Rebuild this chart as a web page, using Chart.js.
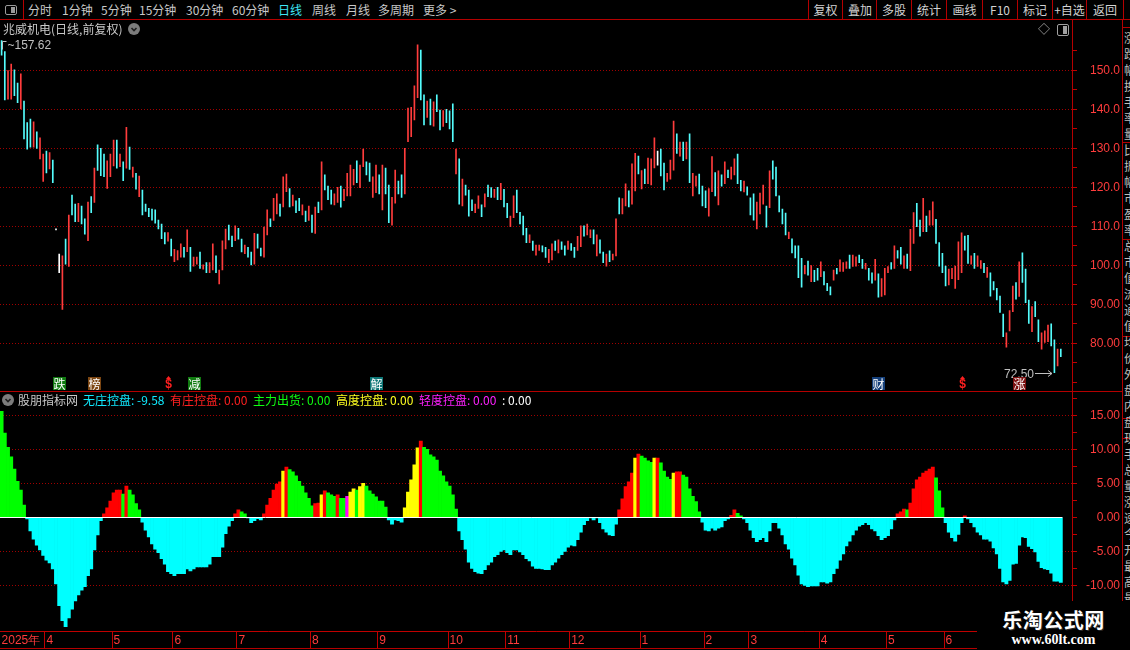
<!DOCTYPE html>
<html lang="zh">
<head>
  <meta charset="UTF-8">
  <title>兆威机电 日线</title>
  <style>
    body {
      margin: 0;
      width: 1130px;
      height: 650px;
      background: #000;
      overflow: hidden;
      position: relative;
      font-family: "Noto Sans CJK SC", sans-serif;
    }
    .t {
      position: absolute;
      white-space: nowrap;
      font-size: 12px;
      line-height: 14px;
      color: #c8c8c8;
    }
    .hl { position: absolute; height: 1px; background: #b40000; }
    .vl { position: absolute; width: 1px; background: #b40000; }
    .btn {
      position: absolute;
      top: 0;
      height: 19px;
      border-left: 1px solid #b40000;
      color: #d2d2d2;
      font-size: 12px;
      line-height: 19px;
      text-align: center;
    }
    .tag {
      position: absolute;
      width: 12px;
      height: 12px;
      border-radius: 50%;
      background: #7c7c7c;
    }
    .chartBox { position: absolute; left: 0; width: 1120px; }
    .wm {
      position: absolute;
      left: 977px;
      top: 601px;
      width: 153px;
      height: 49px;
      background: #000;
      color: #fff;
      text-align: center;
    }
  </style>
</head>
<body>

  <!-- toolbar -->
  <div style="position:absolute;left:0;top:0;width:23px;height:19px;border-right:1px solid #b40000;">
    <div style="position:absolute;left:5px;top:5px;width:10px;height:8px;border:1px solid #9a9a9a;border-radius:2px;">
      <div style="position:absolute;right:1px;top:1px;width:4px;height:6px;background:#9a9a9a;"></div>
    </div>
  </div>
  <div class="t" style="left:28px;top:3px;">分时</div>
  <div class="t" style="left:62px;top:3px;">1分钟</div>
  <div class="t" style="left:101px;top:3px;">5分钟</div>
  <div class="t" style="left:139px;top:3px;">15分钟</div>
  <div class="t" style="left:186px;top:3px;">30分钟</div>
  <div class="t" style="left:232px;top:3px;">60分钟</div>
  <div class="t" style="left:278px;top:3px;color:#3ee6f6;">日线</div>
  <div class="t" style="left:312px;top:3px;">周线</div>
  <div class="t" style="left:346px;top:3px;">月线</div>
  <div class="t" style="left:378px;top:3px;">多周期</div>
  <div class="t" style="left:423px;top:3px;">更多 &gt;</div>

  <div class="btn" style="left:808px;width:33px;">复权</div>
  <div class="btn" style="left:842px;width:34px;">叠加</div>
  <div class="btn" style="left:876px;width:34px;">多股</div>
  <div class="btn" style="left:911px;width:34px;">统计</div>
  <div class="btn" style="left:946px;width:35px;">画线</div>
  <div class="btn" style="left:982px;width:34px;">F10</div>
  <div class="btn" style="left:1017px;width:34px;">标记</div>
  <div class="btn" style="left:1052px;width:33px;">+自选</div>
  <div class="btn" style="left:1086px;width:36px;border-right:1px solid #b40000;">返回</div>

  <!-- charts -->
  <div class="chartBox" style="top:20px;height:371px;">
    <canvas id="priceChart" width="1120" height="371"></canvas>
  </div>
  <div class="chartBox" style="top:391px;height:259px;">
    <canvas id="indChart" width="1120" height="259"></canvas>
  </div>

  <!-- frame lines -->
  <div class="hl" style="left:0;top:19px;width:1130px;"></div>
  <div class="hl" style="left:0;top:391px;width:1122px;"></div>
  <div class="hl" style="left:0;top:648px;width:977px;"></div>
  <div class="vl" style="left:1072px;top:19px;height:582px;"></div>
  <div class="vl" style="left:1122px;top:19px;height:582px;"></div>
  <div class="hl" style="left:1122px;top:27px;width:8px;"></div>
  <div class="hl" style="left:1122px;top:142px;width:8px;"></div>
  <div class="hl" style="left:1122px;top:239px;width:8px;"></div>
  <div class="hl" style="left:1122px;top:336px;width:8px;"></div>
  <div class="hl" style="left:1122px;top:418px;width:8px;"></div>
  <div class="hl" style="left:1122px;top:438px;width:8px;"></div>
  <div style="position:absolute;left:1124px;top:30px;width:6px;height:570px;overflow:hidden;">
    <div class="t" style="position:static;line-height:16px;font-size:12px;white-space:normal;width:12px;color:#bdbdbd;">
      涨跌幅换手率量比振幅市盈率总市值流通值均价外盘内盘现手总量涨速今开最高最低昨收净资产收益率股本流通盘
    </div>
  </div>

  <!-- price panel header -->
  <div class="t" style="left:3px;top:22px;">兆威机电(日线,前复权)</div>
  <div class="tag" style="left:128px;top:23px;">
    <svg width="12" height="12" style="position:absolute;left:0;top:0"><polyline points="3.5,5 6,7.5 8.5,5" fill="none" stroke="#1e1e1e" stroke-width="1.6"/></svg>
  </div>
  <div class="t" style="left:1038px;top:22px;color:#a8a8a8;font-size:12px;">◇</div>
  <div style="position:absolute;left:1057px;top:24px;width:10px;height:10px;border:1px solid #a0a0a0;border-radius:2px;">
    <div style="position:absolute;right:1px;top:1px;width:4px;height:8px;background:#a0a0a0;"></div>
  </div>

  <!-- indicator header -->
  <div class="tag" style="left:2px;top:394px;">
    <svg width="12" height="12" style="position:absolute;left:0;top:0"><polyline points="3.5,5 6,7.5 8.5,5" fill="none" stroke="#1e1e1e" stroke-width="1.6"/></svg>
  </div>
  <div class="t" style="left:18px;top:393px;">股朋指标网</div>
  <div class="t" id="lblNone" style="left:83px;top:393px;color:#10eaff;"></div>
  <div class="t" style="left:170px;top:393px;color:#ff2020;">有庄控盘: 0.00</div>
  <div class="t" style="left:253px;top:393px;color:#10ff10;">主力出货: 0.00</div>
  <div class="t" style="left:336px;top:393px;color:#ffff20;">高度控盘: 0.00</div>
  <div class="t" style="left:419px;top:393px;color:#ff20ff;">轻度控盘: 0.00</div>
  <div class="t" style="left:502px;top:393px;color:#ffffff;">: 0.00</div>

  <!-- watermark -->
  <div class="wm">
    <div style="font-size:20px;font-weight:bold;line-height:24px;margin-top:7px;letter-spacing:0.5px;text-shadow:0 0 2px #000,1px 1px 0 #333;">乐淘公式网</div>
    <div style="font-family:'Liberation Serif',serif;font-size:14px;font-weight:bold;line-height:16px;">www.60lt.com</div>
  </div>

<script src="https://cdn.jsdelivr.net/npm/chart.js/dist/chart.umd.min.js"></script>
<script>
  // ---- daily bars (high / low), oldest first ----
  const highs = [
    157.62,154.8,149.9,151.6,150.1,146.7,149.1,142.1,136.6,137.5,
    136.8,134.2,132.7,128.5,129.3,128.9,127.0,109.3,102.9,102.4,
    106.7,112.9,118.0,115.7,115.9,115.2,111.9,116.2,117.6,124.9,
    130.9,130.0,128.5,126.8,128.5,132.1,132.1,128.5,126.5,135.4,
    130.3,125.2,123.6,122.9,119.3,115.7,114.6,114.4,114.2,111.6,
    110.6,108.4,108.4,106.7,104.1,103.8,105.5,104.6,109.1,104.6,
    102.1,102.1,103.4,100.1,100.7,100.7,105.5,102.4,98.8,106.3,
    109.3,110.3,107.5,110.1,109.5,106.7,105.2,104.6,103.4,108.2,
    108.0,104.4,109.8,114.2,111.9,117.2,118.3,115.7,122.7,123.4,
    119.7,118.0,116.5,117.2,115.5,113.9,115.2,112.9,114.9,116.2,
    126.5,123.2,120.3,119.3,118.3,120.0,120.3,119.5,123.6,125.7,
    124.6,126.8,125.7,129.8,126.5,126.2,122.7,125.7,123.2,125.7,
    124.9,120.6,117.4,124.4,121.6,123.2,130.0,140.3,140.5,146.0,
    156.5,155.2,143.7,142.1,142.6,141.9,143.7,139.8,139.7,140.0,
    139.6,141.4,129.8,127.3,122.1,120.6,119.3,116.8,115.7,117.8,
    115.5,118.3,120.6,119.9,119.5,120.0,121.0,119.5,115.9,112.6,
    117.8,119.3,113.6,112.6,109.5,107.8,106.2,105.2,105.2,105.0,
    104.6,104.1,105.5,106.2,106.5,106.0,105.0,106.2,105.6,104.6,
    107.4,110.1,110.1,110.6,109.1,109.1,107.8,106.5,103.4,102.9,
    103.7,102.9,111.9,117.3,117.1,120.9,119.1,126.0,128.7,128.0,
    124.3,124.7,127.5,127.3,132.7,129.3,129.8,126.2,123.6,127.0,
    137.0,133.7,131.6,131.6,131.6,133.7,123.6,122.9,123.4,120.3,
    119.1,119.7,127.9,123.8,124.2,123.2,126.5,124.4,125.2,127.3,
    128.5,121.8,121.6,120.1,117.3,118.3,116.2,118.5,120.6,115.2,
    124.2,126.8,125.2,117.8,114.4,113.4,108.5,106.8,105.0,105.0,
    101.8,100.0,101.1,99.9,98.7,99.2,100.9,98.4,95.4,94.5,
    98.8,99.2,101.4,100.7,100.9,102.6,102.6,102.2,102.6,101.5,
    100.5,99.2,98.1,101.5,97.8,96.6,99.2,99.7,100.7,105.0,
    103.8,104.6,102.4,102.9,109.2,113.5,115.9,111.6,117.2,112.6,
    114.0,116.3,111.8,105.8,103.1,99.8,99.0,99.2,99.8,106.0,
    108.3,107.5,107.7,102.4,103.1,102.4,101.2,100.5,99.5,98.1,
    95.8,94.1,92.1,87.5,82.7,88.4,94.7,95.6,100.9,103.2,
    99.0,91.1,89.4,90.7,86.0,82.7,83.2,84.7,85.0,80.9,
    78.5,78.5
  ];
  const lows = [
    153.9,142.4,142.6,142.6,143.5,141.7,140.1,132.4,129.8,130.3,
    130.3,130.0,127.3,121.5,123.7,124.7,121.2,109.1,98.1,88.7,
    100.3,99.7,112.9,111.2,111.2,110.6,108.0,106.3,113.5,116.1,
    124.3,123.0,122.7,119.7,122.7,125.5,124.9,125.3,121.7,124.9,
    124.6,122.6,119.5,117.6,112.9,113.8,112.5,111.6,110.8,109.3,
    106.8,105.5,106.2,102.4,100.9,101.4,102.1,102.1,103.5,98.4,
    99.8,100.3,99.2,99.0,98.1,98.1,98.8,98.1,95.2,98.8,
    104.2,106.5,104.8,106.3,106.7,103.4,103.0,102.1,100.1,100.3,
    104.4,102.4,102.1,107.8,109.9,111.5,113.2,112.6,115.0,118.9,
    115.0,115.2,113.5,114.0,112.9,111.2,111.5,108.4,108.2,113.5,
    114.2,119.3,116.8,115.7,115.5,116.1,114.9,116.6,117.8,117.8,
    120.6,121.2,119.9,125.3,123.2,121.5,117.4,118.6,118.3,114.2,
    118.3,110.9,110.3,115.9,118.3,117.4,118.3,131.7,133.0,137.3,
    143.0,142.4,136.0,137.9,136.0,135.7,139.4,134.7,135.6,136.6,
    135.0,131.7,123.4,115.7,115.2,118.0,112.6,114.0,113.5,114.6,
    112.5,115.0,117.6,117.4,117.4,116.8,116.8,115.0,112.2,109.9,
    112.2,113.5,110.6,107.8,105.8,105.8,103.8,102.6,103.8,103.4,
    102.0,100.7,101.4,103.8,103.2,104.1,102.6,104.1,103.8,102.0,
    103.8,104.8,107.5,107.8,107.1,105.5,102.4,103.1,100.7,99.8,
    100.9,101.4,102.4,113.2,113.2,115.2,115.0,115.7,119.1,123.4,
    119.6,120.9,120.9,120.6,125.0,125.7,122.9,119.3,121.5,122.1,
    124.4,128.7,128.0,126.8,127.3,121.2,117.8,120.3,118.3,115.2,
    114.8,112.6,118.9,117.8,115.5,120.3,120.9,122.5,122.1,123.2,
    120.9,119.1,118.8,118.0,112.9,111.6,109.3,113.2,115.7,109.8,
    114.8,122.1,117.8,113.7,110.6,107.8,106.8,103.2,101.9,96.8,
    94.4,97.8,97.5,95.8,95.8,96.2,97.1,95.0,93.5,92.4,
    96.2,97.8,98.4,98.4,99.2,99.2,99.7,99.8,100.7,99.2,
    99.0,96.2,95.4,96.2,91.8,92.0,92.4,98.1,99.0,99.2,
    101.8,100.3,99.2,99.2,98.6,105.6,109.9,107.5,108.6,108.6,
    110.3,110.3,105.6,99.8,98.1,94.7,95.0,96.6,94.1,96.3,
    98.1,103.9,100.5,100.3,99.2,99.7,99.2,98.1,96.9,92.1,
    93.7,91.1,87.9,81.7,79.0,83.2,88.1,91.3,92.0,95.6,
    90.4,85.1,83.0,86.8,80.4,78.5,80.2,80.4,79.3,72.5,
    74.2,76.6
  ];
  // r = up day, c = down day, w = flat
  const candleDir =
    'ccrrccrccc' + 'rcrrcrcwwr' + 'crccrccrcr' + 'cccrrrcrcr' + 'crcrcccccc' +
    'ccrcrrrcrc' + 'rrcrcrrcrr' + 'rccrccrccr' + 'ccrrcrrcrr' + 'crccrcrcrc' +
    'rcccrrcrrr' + 'rcrrccrrcr' + 'ccrrccrrrr' + 'rccrcrccrc' + 'ccrcrcccrr' +
    'crccrcrccr' + 'rccccrcrrc' + 'crrcrccrcc' + 'rrcrrcrccr' + 'crrcrrcrrc' +
    'rcrrrwccrr' + 'rcrcrcrrcc' + 'crrcrcrcrr' + 'ccrcccrrrc' + 'rcccccrccc' +
    'crcrccrccc' + 'rcrrrcrrcc' + 'rccrcrrrcr' + 'ccrcrrccrc' + 'rrccccrrrr' +
    'rccrcrrcrc' + 'ccccrrrcrc' + 'ccrccrrrcc' + 'rc';

  // ---- indicator histogram ----
  const indValues = [
    15.6,12.4,10.3,8.9,7.1,5.3,4.0,1.8,-0.25,-2.0,
    -3.2,-4.1,-4.8,-5.6,-6.3,-6.7,-7.6,-9.8,-13.0,-15.2,
    -16.1,-14.8,-13.5,-12.3,-11.4,-10.7,-10.2,-8.6,-7.6,-4.8,
    -2.6,-0.5,0.5,1.4,2.4,3.6,4.0,4.0,3.4,4.6,
    4.0,3.3,2.0,1.1,-0.7,-1.9,-2.9,-3.9,-4.7,-5.2,
    -6.1,-6.9,-8.0,-8.3,-8.6,-8.3,-8.3,-8.3,-7.6,-7.9,
    -7.6,-7.3,-7.3,-7.3,-7.3,-6.9,-5.8,-5.8,-5.8,-4.4,
    -2.4,-1.3,-0.5,0.5,1.1,0.8,0.5,-0.1,-0.8,-0.5,
    -0.2,-0.4,0.5,1.8,2.8,4.0,4.9,5.2,6.8,7.4,
    7.0,6.7,6.1,5.3,4.6,3.6,2.8,1.7,2.0,2.1,
    3.3,3.9,3.6,3.3,3.1,3.3,2.8,2.8,3.1,3.7,
    4.2,4.0,4.5,5.0,4.6,3.9,3.4,3.0,2.4,2.4,
    1.5,-0.4,-1.0,-0.4,-0.5,-0.7,1.4,3.7,5.5,7.7,
    10.2,11.2,10.3,10.0,9.2,8.9,8.4,6.8,6.1,5.2,
    4.6,3.3,1.2,-2.0,-3.3,-4.7,-6.6,-7.5,-8.0,-8.2,
    -8.3,-7.7,-7.0,-6.6,-5.8,-5.5,-5.0,-4.8,-5.2,-5.5,
    -4.8,-4.8,-5.1,-5.5,-6.1,-6.4,-7.2,-7.5,-7.5,-7.6,
    -7.7,-7.7,-7.0,-6.6,-6.0,-5.5,-5.0,-4.4,-4.1,-4.2,
    -3.3,-2.2,-1.1,-0.5,-0.1,-0.4,-0.1,-0.8,-1.7,-2.2,
    -2.6,-2.7,-1.0,1.1,2.7,4.5,5.2,6.5,8.7,9.3,
    9.0,8.7,8.3,8.1,8.7,8.7,8.0,6.8,5.9,5.6,
    6.5,6.7,6.7,6.2,5.9,4.2,3.1,2.3,0.8,-0.7,
    -1.9,-2.0,-1.6,-1.9,-1.6,-1.4,-0.5,-0.25,0.3,1.1,
    0.6,0.2,-0.25,-0.8,-1.9,-3.0,-3.6,-3.3,-3.0,-3.6,
    -2.0,-0.8,-0.8,-1.6,-2.6,-3.9,-4.7,-6.0,-7.0,-8.5,
    -9.8,-10.0,-10.2,-10.1,-10.1,-10.1,-9.5,-9.5,-9.7,-9.5,
    -8.3,-7.5,-6.3,-5.4,-4.2,-3.5,-2.6,-1.9,-1.3,-1.1,
    -0.8,-1.1,-1.7,-2.0,-2.7,-3.3,-3.0,-2.7,-1.7,-0.4,
    0.5,0.8,1.2,1.1,2.1,4.2,5.5,5.9,6.5,6.8,
    7.1,7.4,5.8,3.9,1.4,-0.8,-2.2,-3.0,-3.5,-2.5,
    -0.8,0.2,-0.25,-0.8,-1.4,-2.2,-2.6,-3.2,-3.2,-3.5,
    -4.5,-5.4,-7.5,-9.5,-9.8,-9.3,-6.9,-6.8,-4.1,-2.9,
    -3.0,-4.3,-4.6,-5.1,-6.5,-7.4,-7.6,-7.7,-8.2,-9.4,
    -9.4,-9.58
  ];
  // c 无庄控盘, r 有庄控盘, g 主力出货, y 高度控盘, m 轻度控盘
  const indKind =
    'ggggggggcc' + 'cccccccccc' + 'cccccccccc' + 'ccrrrrrrgr' + 'ggggcccccc' +
    'cccccccccc' + 'cccccccccc' + 'cccrrggccc' + 'ccrrrrrryr' + 'ggggggggrr' +
    'yrgggrggmy' + 'ygyygggggg' + 'gcccccyyyy' + 'yrgggggggg' + 'gggccccccc' +
    'cccccccccc' + 'cccccccccc' + 'cccccccccc' + 'cccccccccc' + 'cccrrrrryr' +
    'ggggyrgggg' + 'yrrggggggc' + 'ccccccccrr' + 'ggcccccccc' + 'cccccccccc' +
    'cccccccccc' + 'cccccccccc' + 'cccccccccc' + 'rrrgrrrrrr' + 'rrgggccccc' +
    'crcccccccc' + 'cccccccccc' + 'cccccccccc' + 'cc';

  // ---- axis labels ----
  const monthStarts = [0, 14, 35, 54, 74, 97, 118, 140, 158, 178, 200, 220, 234, 256, 277, 295];
  const monthNames = ['2025年', '4', '5', '6', '7', '8', '9', '10', '11', '12', '1', '2', '3', '4', '5', '6'];
  const priceTicks = [70, 75, 80, 85, 90, 95, 100, 105, 110, 115, 120, 125, 130, 135, 140, 145, 150, 155];
  const indTicks = [-12.5, -10, -7.5, -5, -2.5, 0, 2.5, 5, 7.5, 10, 12.5, 15, 17.5];

  // ---- event tags under the candles ----
  const eventIdx = [18, 29, 52, 60, 117, 274, 300, 318];
  const eventText = ['跌', '榜', '$', '减', '解', '财', '$', '涨'];
  const eventBg = ['#107a10', '#7c4612', null, '#107a10', '#0d7676', '#143f7a', null, '#7c1010'];

  const candleColors = { r: '#ff3c3c', c: '#54fcfc', w: '#ffffff' };
  const indColors = { c: '#00ffff', r: '#ff0000', g: '#00ff00', y: '#ffff00', m: '#ff00ff' };
  const slots = Array.from({ length: highs.length + 3 }, (_, i) => i);

  document.getElementById('lblNone').textContent = '无庄控盘: ' + indValues[indValues.length - 1].toFixed(2);

  Chart.defaults.font.family = '"Liberation Sans", Arial, sans-serif';
  Chart.defaults.font.size = 12;

  const gridRed = '#a00000';
  const axisRed = '#c00000';
  const labelRed = '#ff3c3c';

  // set the value range so the axis lands where the screen places it
  function pinScale(chart, pageTop, refPx, refValue, pxPerUnit) {
    const a = chart.chartArea;
    const y = chart.options.scales.y;
    y.max = refValue + (refPx - (pageTop + a.top)) / pxPerUnit;
    y.min = refValue - ((pageTop + a.bottom) - refPx) / pxPerUnit;
    chart.update('none');
  }

  // max / min price notes and the tag row
  const priceMarks = {
    id: 'priceMarks',
    afterDatasetsDraw(chart) {
      const { ctx, scales: { x, y } } = chart;
      ctx.save();
      ctx.strokeStyle = '#c0c0c0';
      ctx.fillStyle = '#c0c0c0';
      ctx.lineWidth = 1;
      ctx.font = '12px "Liberation Sans", sans-serif';
      ctx.textBaseline = 'middle';

      const iHi = highs.indexOf(Math.max(...highs));
      const hx = Math.round(x.getPixelForValue(iHi)) + 0.5;
      const hy = Math.round(y.getPixelForValue(highs[iHi])) + 0.5;
      ctx.beginPath();
      ctx.moveTo(hx, hy + 8); ctx.lineTo(hx, hy); ctx.lineTo(hx + 4, hy);
      ctx.stroke();
      ctx.fillText('~' + highs[iHi].toFixed(2), hx + 5, hy + 4);

      const iLo = lows.indexOf(Math.min(...lows));
      const lx = Math.round(x.getPixelForValue(iLo));
      const ly = Math.round(y.getPixelForValue(lows[iLo])) + 0.5;
      ctx.beginPath();
      ctx.moveTo(lx - 19, ly); ctx.lineTo(lx - 2, ly);
      ctx.moveTo(lx - 6, ly - 3); ctx.lineTo(lx - 2, ly); ctx.lineTo(lx - 6, ly + 3);
      ctx.stroke();
      ctx.textAlign = 'right';
      ctx.fillText(lows[iLo].toFixed(2), lx - 20, ly + 1);

      const top = chart.height - 14;
      ctx.textAlign = 'center';
      eventIdx.forEach((idx, k) => {
        const cx = Math.round(x.getPixelForValue(idx));
        if (eventBg[k]) {
          ctx.fillStyle = eventBg[k];
          ctx.fillRect(cx - 6, top, 13, 13);
          ctx.fillStyle = '#ffffff';
          ctx.font = '12px "Noto Sans CJK SC", sans-serif';
          ctx.fillText(eventText[k], cx + 0.5, top + 7);
        } else {
          ctx.fillStyle = '#ff2020';
          ctx.beginPath();
          ctx.moveTo(cx + 0.5, top - 1); ctx.lineTo(cx - 2, top + 2); ctx.lineTo(cx + 3, top + 2);
          ctx.fill();
          ctx.font = 'bold 12px "Liberation Sans", sans-serif';
          ctx.fillText(eventText[k], cx + 0.5, top + 8);
        }
      });
      ctx.restore();
    }
  };

  const zeroLine = {
    id: 'zeroLine',
    afterDatasetsDraw(chart) {
      const { ctx, chartArea, scales: { x, y } } = chart;
      const yy = Math.round(y.getPixelForValue(0)) + 0.5;
      const xEnd = x.getPixelForValue(indValues.length - 1) + x.width / slots.length / 2;
      ctx.save();
      ctx.strokeStyle = '#ffffff';
      ctx.lineWidth = 1;
      ctx.beginPath();
      ctx.moveTo(chartArea.left, yy);
      ctx.lineTo(xEnd, yy);
      ctx.stroke();
      ctx.restore();
    }
  };

  const priceChart = new Chart(document.getElementById('priceChart'), {
    type: 'bar',
    data: {
      labels: slots,
      datasets: [{
        data: lows.map((l, i) => [l, highs[i]]),
        backgroundColor: [...candleDir].map(k => candleColors[k]),
        barThickness: 1,
        minBarLength: 1,
        borderWidth: 0
      }]
    },
    options: {
      responsive: false,
      animation: false,
      devicePixelRatio: 1,
      layout: { padding: { top: 16 } },
      plugins: { legend: { display: false }, tooltip: { enabled: false } },
      scales: {
        x: { display: false },
        y: {
          position: 'right',
          min: 67.77,
          max: 158.79,
          afterBuildTicks: s => { s.ticks = priceTicks.map(v => ({ value: v })); },
          afterFit: s => { s.width = 48; },
          grid: {
            color: c => (c.tick && c.tick.value % 10 === 0 && c.tick.value >= 80) ? gridRed : 'transparent',
            tickColor: axisRed,
            tickLength: 5
          },
          border: { display: false, dash: [1, 2] },
          ticks: {
            color: labelRed,
            crossAlign: 'far',
            padding: 10,
            callback: v => (v % 10 === 0 && v >= 80) ? v.toPrecision(4) : ''
          }
        }
      }
    },
    plugins: [priceMarks]
  });
  pinScale(priceChart, 20, 70.3, 150, 3.9);

  const indChart = new Chart(document.getElementById('indChart'), {
    type: 'bar',
    data: {
      labels: slots,
      datasets: [{
        data: indValues,
        backgroundColor: [...indKind].map(k => indColors[k]),
        barPercentage: 1,
        categoryPercentage: 1,
        borderWidth: 0
      }]
    },
    options: {
      responsive: false,
      animation: false,
      devicePixelRatio: 1,
      layout: { padding: { top: 4 } },
      plugins: { legend: { display: false }, tooltip: { enabled: false } },
      scales: {
        x: {
          afterFit: s => { s.height = 19; },
          grid: {
            drawOnChartArea: false,
            drawTicks: true,
            tickLength: 17,
            tickColor: c => monthStarts.includes(c.index) ? axisRed : 'transparent'
          },
          border: { display: true, color: axisRed },
          ticks: {
            autoSkip: false,
            maxRotation: 0,
            minRotation: 0,
            align: 'start',
            padding: -15,
            color: labelRed,
            callback: (v, i) => {
              const k = monthStarts.indexOf(i);
              return k < 0 ? '' : monthNames[k];
            }
          }
        },
        y: {
          position: 'right',
          min: -16.72,
          max: 17.99,
          afterBuildTicks: s => { s.ticks = indTicks.map(v => ({ value: v })); },
          afterFit: s => { s.width = 48; },
          grid: {
            color: c => (c.tick && c.tick.value % 5 === 0 && c.tick.value !== 0) ? gridRed : 'transparent',
            tickColor: axisRed,
            tickLength: 5
          },
          border: { display: false, dash: [1, 2] },
          ticks: {
            color: labelRed,
            crossAlign: 'far',
            padding: 6,
            callback: v => v % 5 === 0 ? v.toFixed(2) : ''
          }
        }
      }
    },
    plugins: [zeroLine]
  });
  pinScale(indChart, 391, 517.3, 0, 6.8);
</script>
</body>
</html>
